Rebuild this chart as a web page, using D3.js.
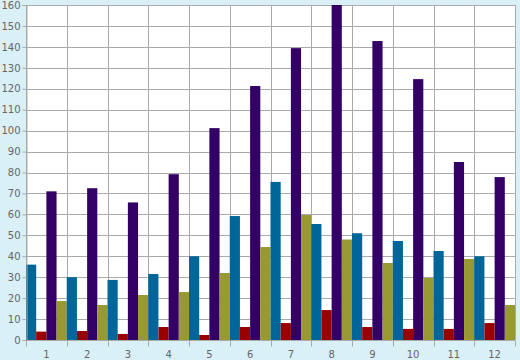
<!DOCTYPE html>
<html><head><meta charset="utf-8">
<script src="https://cdn.jsdelivr.net/npm/d3@7"></script>
<style>html,body{margin:0;padding:0;background:#d9f0f7;}svg{display:block;}</style>
</head><body>
<svg id="c" width="520" height="360"></svg>
<script>
const categories = ["1","2","3","4","5","6","7","8","9","10","11","12"];
const seriesNames = ["A","B","C","D"];
const seriesColors = ["#006699","#990000","#330066","#999933"];
const blueValues   = [36, 30, 28.7, 31.5, 40, 59.2, 75.5, 55.4, 51, 47.3, 42.5, 40];
const redValues    = [4, 4.3, 2.9, 6.2, 2.4, 6.2, 8.1, 14.3, 6.2, 5.3, 5.3, 8.1];
const purpleValues = [71, 72.5, 65.7, 79.2, 101.2, 121.3, 139.4, 160, 142.8, 124.6, 85, 77.8];
const oliveValues  = [18.6, 16.7, 21.5, 22.9, 32, 44.4, 59.7, 48, 36.8, 29.6, 38.7, 16.7];
const yTicks = d3.range(0, 161, 10);

const allSeries = [blueValues, redValues, purpleValues, oliveValues];
const W = 520, H = 360;
const m = {left: 26, right: 5, top: 5, bottom: 20};
const svg = d3.select("#c");
svg.append("rect").attr("width", W).attr("height", H).attr("fill", "#d9f0f7");

const x = d3.scaleBand().domain(categories).range([m.left, W - m.right]).padding(0);
const xs = d3.scaleBand().domain(seriesNames).range([0, x.bandwidth()]).padding(0);
const y = d3.scaleLinear().domain([0, 160]).range([H - m.bottom, m.top]);

svg.append("rect").attr("x", m.left).attr("y", m.top)
  .attr("width", W - m.right - m.left).attr("height", H - m.bottom - m.top).attr("fill", "#fff");

const grid = svg.append("g").attr("stroke", "#aaaaaa").attr("stroke-width", 1).attr("shape-rendering", "crispEdges");
grid.selectAll("line.h").data(yTicks).join("line").attr("class","h")
  .attr("x1", m.left).attr("x2", W - m.right)
  .attr("y1", d => Math.round(y(d)) + 0.5).attr("y2", d => Math.round(y(d)) + 0.5);
const bounds = categories.map(c => x(c)).concat([x.range()[1]]);
grid.selectAll("line.v").data(bounds).join("line").attr("class","v")
  .attr("x1", d => Math.round(d) + 0.5).attr("x2", d => Math.round(d) + 0.5)
  .attr("y1", m.top).attr("y2", H - m.bottom);

const groups = svg.append("g").selectAll("g").data(categories).join("g")
  .attr("transform", c => `translate(${x(c)},0)`);
groups.selectAll("rect").data((c, i) => seriesNames.map((s, j) => ({s, v: allSeries[j][i], j})))
  .join("rect")
  .attr("x", d => xs(d.s)).attr("width", xs.bandwidth())
  .attr("y", d => y(d.v)).attr("height", d => y(0) - y(d.v))
  .attr("fill", d => seriesColors[d.j]);

// axes
const yAxis = d3.axisLeft(y).tickValues(yTicks).tickSize(4).tickPadding(2);
const gy = svg.append("g").attr("transform", `translate(${m.left + 0.5},0)`).call(yAxis);
gy.select(".domain").attr("stroke", "#aaaaaa");
gy.selectAll(".tick line").attr("stroke", "#aaaaaa");
gy.selectAll("text").attr("fill", "#666").attr("font-family", "DejaVu Sans").attr("font-size", 10);

const gx = svg.append("g").attr("transform", `translate(0,${H - m.bottom + 0.5})`);
gx.append("line").attr("x1", m.left).attr("x2", W - m.right).attr("stroke", "#aaaaaa");
gx.selectAll("line.t").data(bounds).join("line").attr("class","t")
  .attr("x1", d => Math.round(d) + 0.5).attr("x2", d => Math.round(d) + 0.5)
  .attr("y1", 0).attr("y2", 6).attr("stroke", "#aaaaaa");
gx.selectAll("text").data(categories).join("text")
  .attr("x", c => x(c) + x.bandwidth() / 2).attr("y", 17)
  .attr("text-anchor", "middle").attr("fill", "#666")
  .attr("font-family", "DejaVu Sans").attr("font-size", 10).text(c => c);
</script>
</body></html>
